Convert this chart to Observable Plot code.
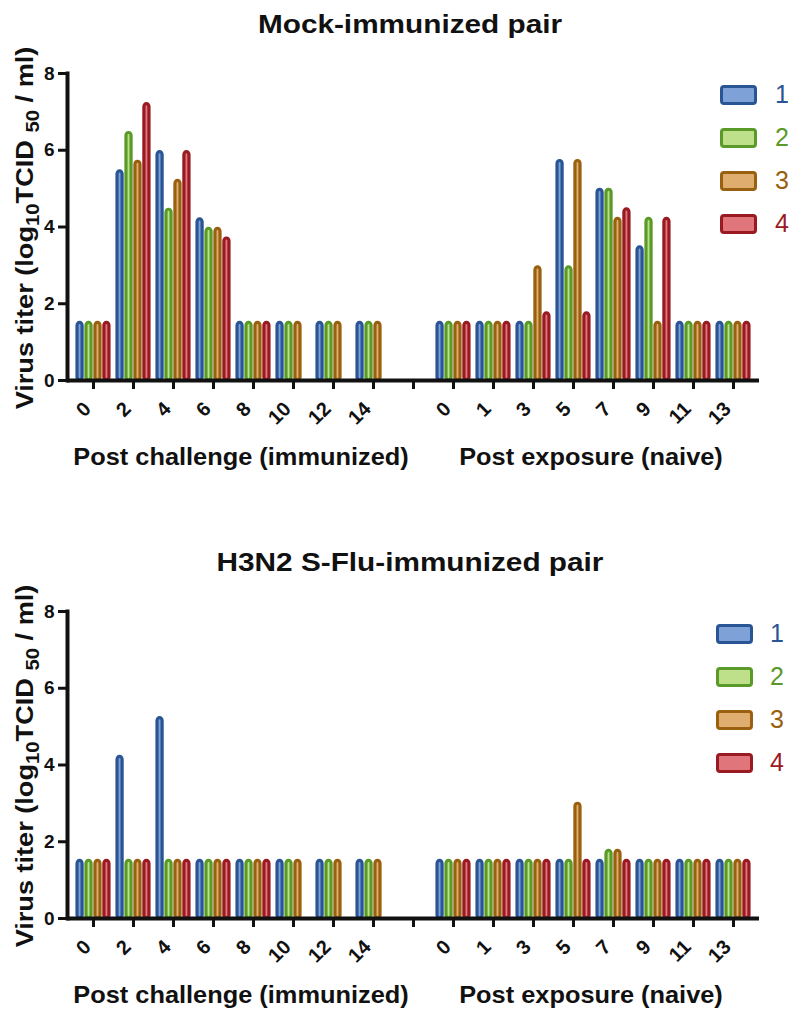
<!DOCTYPE html>
<html>
<head>
<meta charset="utf-8">
<script src="https://cdn.jsdelivr.net/npm/d3@7"></script>
<script src="https://cdn.jsdelivr.net/npm/@observablehq/plot@0.6"></script>
<style>
  body { margin: 0; background: #fff; font-family: "Liberation Sans", Arial, Helvetica, sans-serif; color: #111; }
  #page { position: relative; width: 800px; height: 1024px; overflow: hidden; }
  .title { position: absolute; left: 10px; width: 800px; text-align: center; font-weight: bold; font-size: 25px; line-height: 25px; white-space: nowrap; transform: scaleX(1.19); transform-origin: 400px 0; }
  .group { position: absolute; font-weight: bold; font-size: 24px; line-height: 24px; white-space: nowrap; transform: translateX(-50%) scaleX(1.057); }
  .ylabel { position: absolute; font-weight: bold; font-size: 24px; line-height: 24px; white-space: nowrap; transform: translate(-50%, -50%) rotate(-90deg) scaleX(1.13); }
  .ylabel sub { font-size: 18px; vertical-align: -6px; line-height: 0; }
  .chart { position: absolute; left: 0; }
  .chart svg text { fill: #111; }
  .legend { position: absolute; }
  .legend .row { position: absolute; left: 0; height: 20px; white-space: nowrap; }
  .legend .sw { position: absolute; left: 0; top: 0; width: 37px; height: 20px; box-sizing: border-box; border: 3.5px solid; border-radius: 4px; }
  .legend .lb { position: absolute; top: -3px; font-size: 25px; line-height: 25px; }
</style>
</head>
<body>
<div id="page"></div>
<script>
// ---------- data ----------
const series = ["1", "2", "3", "4"];
const slots = ["c0","c2","c4","c6","c8","c10","c12","c14","gap","e0","e1","e3","e5","e7","e9","e11","e13"];
const slotLabels = ["0","2","4","6","8","10","12","14","","0","1","3","5","7","9","11","13"];
const yTicks = [0, 2, 4, 6, 8];
const groupLabels = ["Post challenge (immunized)", "Post exposure (naive)"];
const titles = ["Mock-immunized pair", "H3N2 S-Flu-immunized pair"];

const mock1 = [1.5, 5.45, 5.95, 4.2, 1.5, 1.5, 1.5, 1.5, null, 1.5, 1.5, 1.5, 5.72, 4.97, 3.47, 1.5, 1.5];
const mock2 = [1.5, 6.45, 4.45, 3.95, 1.5, 1.5, 1.5, 1.5, null, 1.5, 1.5, 1.5, 2.95, 4.97, 4.21, 1.5, 1.5];
const mock3 = [1.5, 5.7, 5.2, 3.95, 1.5, 1.5, 1.5, 1.5, null, 1.5, 1.5, 2.95, 5.72, 4.21, 1.5, 1.5, 1.5];
const mock4 = [1.5, 7.2, 5.95, 3.7, 1.5, null, null, null, null, 1.5, 1.5, 1.75, 1.75, 4.46, 4.21, 1.5, 1.5];

const sflu1 = [1.5, 4.21, 5.22, 1.5, 1.5, 1.5, 1.5, 1.5, null, 1.5, 1.5, 1.5, 1.5, 1.5, 1.5, 1.5, 1.5];
const sflu2 = [1.5, 1.5, 1.5, 1.5, 1.5, 1.5, 1.5, 1.5, null, 1.5, 1.5, 1.5, 1.5, 1.76, 1.5, 1.5, 1.5];
const sflu3 = [1.5, 1.5, 1.5, 1.5, 1.5, 1.5, 1.5, 1.5, null, 1.5, 1.5, 1.5, 2.99, 1.76, 1.5, 1.5, 1.5];
const sflu4 = [1.5, 1.5, 1.5, 1.5, 1.5, null, null, null, null, 1.5, 1.5, 1.5, 1.5, 1.5, 1.5, 1.5, 1.5];

const darkColors = ["#2a5594", "#5a9a28", "#98600f", "#9a1a22"];
const lightColors = ["#7ea2d8", "#bfe08a", "#dfae6e", "#e0767c"];

// ---------- drawing ----------
const page = document.getElementById("page");

function toRows(vals) {
  const rows = [];
  vals.forEach((arr, si) => arr.forEach((v, i) => {
    if (v !== null) rows.push({slot: slots[i], series: series[si], value: v});
  }));
  return rows;
}

function makePlot(vals, marginTop, marginBottom, height) {
  const width = 800, marginLeft = 67, marginRight = 41;
  const bw = (width - marginLeft - marginRight) / slots.length;
  const stepW = bw * 0.88 / series.length;
  const barW = 5.8;
  const inset = (bw - barW) / 2;
  const rows = toRows(vals);
  const bars = series.map((s, si) => Plot.barY(rows.filter(d => d.series === s), {
    x: "slot", y: "value",
    dx: (si - (series.length - 1) / 2) * stepW,
    insetLeft: inset, insetRight: inset,
    fill: lightColors[si], stroke: darkColors[si], strokeWidth: 3.2, rx: 3
  }));
  return Plot.plot({
    width, height, marginTop, marginBottom, marginLeft, marginRight,
    style: {fontFamily: '"Liberation Sans", Arial, Helvetica, sans-serif', color: "#111", background: "transparent"},
    x: {type: "band", domain: slots, padding: 0, axis: null},
    y: {domain: [0, 8], axis: null},
    marks: [
      ...bars,
      // tick marks only
      Plot.axisX({tickFormat: () => "", tickSize: 9, strokeWidth: 3, label: null}),
      // rotated tick labels
      Plot.axisX({tickFormat: d => slotLabels[slots.indexOf(d)], tickRotate: -45, tickSize: 0, tickPadding: 25, dx: -6,
        fontSize: 20, fontWeight: "bold", label: null}),
      Plot.axisY({ticks: yTicks, tickSize: 9, tickPadding: 4, strokeWidth: 3, fontSize: 19, fontWeight: "bold", label: null}),
      Plot.frame({anchor: "left", stroke: "#111", strokeWidth: 4}),
      Plot.ruleY([0], {stroke: "#111", strokeWidth: 4})
    ]
  });
}

function panel(vals, titleText, offset, legendLeft, legendTop, legendTextLeft) {
  const t = document.createElement("div");
  t.className = "title"; t.style.top = (12 + offset) + "px"; t.textContent = titleText;
  page.appendChild(t);

  const holder = document.createElement("div");
  holder.className = "chart"; holder.style.top = (40 + offset) + "px";
  holder.appendChild(makePlot(vals, 33, 60, 400));
  page.appendChild(holder);

  const yl = document.createElement("div");
  yl.className = "ylabel"; yl.style.left = "25px"; yl.style.top = (228 + offset) + "px";
  yl.innerHTML = "Virus titer (log<sub>10</sub>TCID <sub>50</sub> / ml)";
  page.appendChild(yl);

  const centers = [241, 591];
  groupLabels.forEach((g, i) => {
    const d = document.createElement("div");
    d.className = "group"; d.style.left = centers[i] + "px"; d.style.top = (445 + offset) + "px";
    d.textContent = g;
    page.appendChild(d);
  });

  const lg = document.createElement("div");
  lg.className = "legend"; lg.style.left = legendLeft + "px"; lg.style.top = legendTop + "px";
  series.forEach((s, i) => {
    const r = document.createElement("div");
    r.className = "row"; r.style.top = (i * 43) + "px";
    const sw = document.createElement("div");
    sw.className = "sw"; sw.style.borderColor = darkColors[i]; sw.style.background = lightColors[i];
    const lb = document.createElement("div");
    lb.className = "lb"; lb.style.left = legendTextLeft + "px"; lb.style.color = darkColors[i]; lb.textContent = s;
    r.appendChild(sw); r.appendChild(lb); lg.appendChild(r);
  });
  page.appendChild(lg);
}

panel([mock1, mock2, mock3, mock4], titles[0], 0, 720, 85, 55);
panel([sflu1, sflu2, sflu3, sflu4], titles[1], 538, 716, 624, 54);
</script>
</body>
</html>
